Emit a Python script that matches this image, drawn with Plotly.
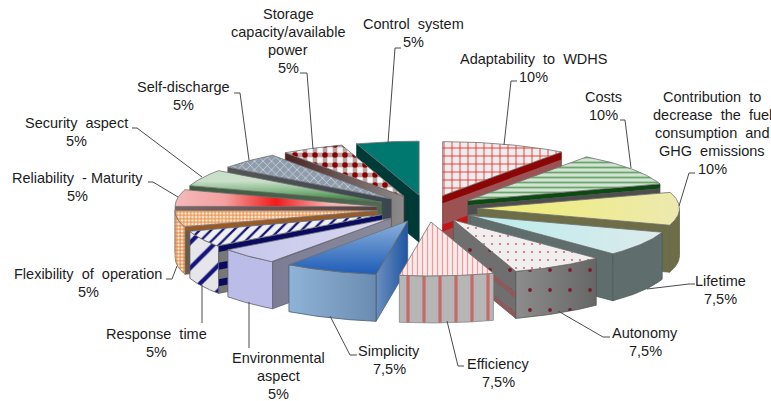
import numpy as np
import plotly.graph_objects as go

# Criteria and their weights (percent), clockwise from twelve o'clock
criteria = [
    "Adaptability\u00a0 to\u00a0 WDHS",
    "Costs",
    "Contribution\u00a0 to<br>decrease\u00a0 the\u00a0 fuel<br>consumption\u00a0 and<br>GHG\u00a0 emissions",
    "Lifetime",
    "Autonomy",
    "Efficiency",
    "Simplicity",
    "Environmental<br>aspect",
    "Response\u00a0 time",
    "Flexibility\u00a0 of\u00a0 operation",
    "Reliability\u00a0 - Maturity",
    "Security\u00a0 aspect",
    "Self-discharge",
    "Storage<br>capacity/available<br>power",
    "Control\u00a0 system",
]
weights = [10, 10, 10, 7.5, 7.5, 7.5, 7.5, 5, 5, 5, 5, 5, 5, 5, 5]

# Projection of the exploded 3D pie onto the page, in pixels
CX, CY = 427.0, 208.5
RX, RY = 202.0, 54.0
PULL = 0.25
DEPTH = 47.0
LINE_STEP = 18.0

# Label anchor (centre of the text block) per criterion
label_xy = [
    (533, 68), (603, 106), (712, 133), (720, 290), (645, 342), (498, 373), (389, 360),
    (278, 375.5), (156, 343), (88, 283), (77, 187), (76, 132), (183, 96), (288, 41), (413, 33),
]
# Leader polylines per criterion
leaders = [
    [(517, 81), (511, 81), (504, 145)],
    [(620, 120), (625, 120), (631, 168)],
    [(695, 173), (689, 173), (679, 206)],
    [(695, 284), (689, 284), (647, 289)],
    [(610, 337), (603, 337), (558, 311)],
    [(464, 366), (458, 366), (447, 321)],
    [(357, 355), (350, 355), (330, 316)],
    [(249, 348), (249, 302)],
    [(202, 323), (202, 285)],
    [(166, 279), (172, 279), (177, 266)],
    [(148, 182), (153, 182), (178, 197)],
    [(132, 128), (137, 128), (202, 177)],
    [(234, 93), (240, 93), (249, 160)],
    [(300, 73), (307, 73), (313, 149)],
    [(401, 48), (395, 48), (388, 143)],
]


def pat(shape, fg, size, solidity, opacity=1.0):
    return dict(shape=shape, fgcolor=fg, size=size, solidity=solidity,
                fgopacity=opacity, bgcolor="rgba(0,0,0,0)")


# Appearance of each slice: top face, outer wall, radial wall with its bands
styles = [
    dict(top=("#eeeeee", "#eeeeee"), top_pat=[pat("+", "#ee2020", 8, 0.2)],
         wall="#9c5252", bands=[(0, 0.16, "#8c0606"), (0.62, 0.76, "#c21616")], edge="#7a3030"),
    dict(top=("#d4e4d4", "#d4e4d4"), top_pat=[pat("-", "#6aa66c", 5, 0.36)],
         wall="#6f6f6f", bands=[(0, 0.1, "#0d4a12"), (0.1, 0.3, "#4e4e4e"), (0.72, 0.82, "#0d4a12")], edge="#555555"),
    dict(top=("#f0ee70", "#ece9b0"), wall="#6d6d48", edge="#666650"),
    dict(top=("#b9ecec", "#dceaec"), wall="#5f6d6d", edge="#4f5c5c"),
    dict(top=("#f0eeee", "#f0eeee"), top_pat=[pat(".", "#c86060", 8, 0.05)],
         wall="#6f6f6f", wall_grad=("#8c8c8c", "#666666"), wall_pat=[pat(".", "#7a1c2c", 20, 0.03)],
         bands=[(0.45, 0.58, "#8c5a5a"), (0.88, 1, "#8c5a5a")], edge="#555555"),
    dict(top=("#f8eaea", "#f8eaea"), top_pat=[pat("|", "#ec9a9a", 5, 0.25)],
         wall="#b6b6b6", wall_pat=[pat("|", "#c86868", 16, 0.2)], edge="#888888"),
    dict(top=("#1e5cb8", "#8db2da"), top_kind="vertical", wall="#8aaccf",
         wall_grad=("#8fb3d6", "#6a8cb0"), side=("#6b8fbd", "#1f56a4"), edge="#4a5a70"),
    dict(top=("#c6c6ec", "#d8d8f0"), wall="#bcbce8", side=("#7c7c96", "#8a8a9c"), edge="#606070"),
    dict(top=("#f0f0f0", "#f0f0f0"), top_pat=[pat("/", "#14147c", 8, 0.28)],
         wall="#e6e6ea", wall_pat=[pat("/", "#14147c", 18, 0.24)], side=("#777777", "#888888"),
         bands=[(0, 0.12, "#0a0a60"), (0.35, 0.5, "#0a0a60"), (0.7, 0.85, "#0a0a60")], edge="#555566"),
    dict(top=("#f8e8da", "#f8e8da"), top_pat=[pat("|", "#ea8a3a", 3.5, 0.35, 0.8), pat("-", "#ea8a3a", 3.5, 0.35, 0.8)],
         wall="#fbeee2", wall_pat=[pat("|", "#e87a2a", 3.5, 0.32, 0.85), pat("-", "#e87a2a", 3.5, 0.32, 0.85)],
         side=("#6a5a4a", "#6a5a4a"), bands=[(0, 0.08, "#9a5a26")], edge="#8a6a4a"),
    dict(top=("#f4baba", "#f3a0a0", "#f01a1a", "#f5b0b0", "#f0d0d0"), wall="#6a4a4a", side=("#7c6464", "#5c4040"),
         bands=[(0.3, 0.5, "#a88080")], edge="#885858"),
    dict(top=("#2a7a2c", "#7fb382", "#c9dfc9", "#c9dfc9"), top_kind="vertical", wall="#3e5a40",
         side=("#3e5a40", "#4e6a50"), edge="#3a5a3a"),
    dict(top=("#8f9cab", "#8f9cab"), top_pat=[pat("x", "#dfe3ea", 6, 0.2)],
         wall="#555555", side=("#555555", "#3a4650"), edge="#555555"),
    dict(top=("#fafafa", "#fafafa"),
         top_pat=[pat("|", "#a98c8c", 10, 0.46, 0.8), pat("-", "#a98c8c", 10, 0.46, 0.8), pat(".", "#8a0000", 10, 0.24)],
         wall="#4a2a2a", side=("#4c2424", "#8c8c8c"), edge="#5a3030"),
    dict(top=("#00776f", "#00776f"), wall="#003a36", side=("#003a36", "#003a36"), edge="#003a36"),
]


def polygon(fig, xs, ys, color=None, grad=None, kind="horizontal", patterns=(), edge=None):
    """One filled face: solid or gradient base, optional hatch layers, outline on the last layer."""
    xs = list(xs) + [xs[0]]
    ys = list(ys) + [ys[0]]
    base = dict(x=xs, y=ys, mode="lines", fill="toself", hoverinfo="skip", showlegend=False)
    line = dict(width=0.8, color=edge) if edge else dict(width=0)
    if grad:
        stops = [[k / (len(grad) - 1), c] for k, c in enumerate(grad)]
        fig.add_trace(go.Scatter(**base, line=dict(width=0) if patterns else line,
                                 fillgradient=dict(type=kind, colorscale=stops)))
    else:
        fig.add_trace(go.Scatter(**base, line=dict(width=0) if patterns else line, fillcolor=color))
    for i, p in enumerate(patterns):
        last = i == len(patterns) - 1
        fig.add_trace(go.Scatter(**base, line=line if last else dict(width=0),
                                 fillcolor="rgba(0,0,0,0)", fillpattern=p))


def project(radius, angle, pull_angle, drop=0.0):
    x = CX + RX * (radius * np.sin(angle) + PULL * np.sin(pull_angle))
    y = CY - RY * (radius * np.cos(angle) + PULL * np.cos(pull_angle)) + drop
    return x, y


def radial_wall(fig, angle, mid, style, colors):
    ax, ay = project(0, angle, mid)
    bx, by = project(1, angle, mid)
    polygon(fig, [ax, bx, bx, ax], [ay, by, by + DEPTH, ay + DEPTH],
            grad=colors, edge=style["edge"],
            patterns=[] if style.get("side") else style.get("wall_pat", []))
    for lo, hi, c in style.get("bands", []):
        polygon(fig, [ax, bx, bx, ax],
                [ay + lo * DEPTH, by + lo * DEPTH, by + hi * DEPTH, ay + hi * DEPTH], color=c)


fig = go.Figure()

# Cumulative angles for every slice
spans = np.radians(np.array(weights, dtype=float) * 3.6)
ends = np.cumsum(spans)
starts = ends - spans
mids = (starts + ends) / 2

# Back-to-front painting order
for i in np.argsort(-np.cos(mids)):
    a0, a1, mid, st = starts[i], ends[i], mids[i], styles[i]
    side = st.get("side", (st["wall"], st["wall"]))

    # Radial walls facing the viewer
    if np.sin(a0) < -1e-6:
        radial_wall(fig, a0, mid, st, side)
    if np.sin(a1) > 1e-6:
        radial_wall(fig, a1, mid, st, side)

    # Outer wall, only where the rim faces the viewer
    lo, hi = max(a0, np.pi / 2), min(a1, 3 * np.pi / 2)
    if hi > lo:
        t = np.linspace(lo, hi, 40)
        ox, oy = project(1, t, mid)
        px = np.r_[ox, ox[::-1]]
        py = np.r_[oy, oy[::-1] + DEPTH]
        polygon(fig, px, py, grad=st.get("wall_grad", (st["wall"], st["wall"])),
                patterns=st.get("wall_pat", []), edge=st["edge"])

    # Top face
    t = np.linspace(a0, a1, 60)
    ox, oy = project(1, t, mid)
    hx, hy = project(0, mid, mid)
    polygon(fig, np.r_[hx, ox], np.r_[hy, oy], grad=st["top"], kind=st.get("top_kind", "horizontal"),
            patterns=st.get("top_pat", []), edge="#707070")

# Leader lines from each label to its slice
for pts in leaders:
    fig.add_trace(go.Scatter(x=[p[0] for p in pts], y=[p[1] for p in pts], mode="lines",
                             line=dict(color="#4a4a4a", width=1), hoverinfo="skip", showlegend=False))

# Labels, one annotation per line so the leading stays tight
for name, w, (lx, ly) in zip(criteria, weights, label_xy):
    share = f"{w:g}".replace(".", ",") + "%"
    rows = name.split("<br>") + [share]
    for k, row in enumerate(rows):
        fig.add_annotation(x=lx, y=ly + (k - (len(rows) - 1) / 2) * LINE_STEP, text=row, showarrow=False,
                           xanchor="center", yanchor="middle",
                           font=dict(family="Liberation Sans, Arial, sans-serif", size=14.5, color="#1c1c1c"))

fig.update_layout(
    width=771, height=401, margin=dict(l=0, r=0, t=0, b=0),
    paper_bgcolor="white", plot_bgcolor="white",
    xaxis=dict(range=[0, 771], visible=False, fixedrange=True),
    yaxis=dict(range=[401, 0], visible=False, fixedrange=True),
    showlegend=False,
)
fig.write_html("out.html")
